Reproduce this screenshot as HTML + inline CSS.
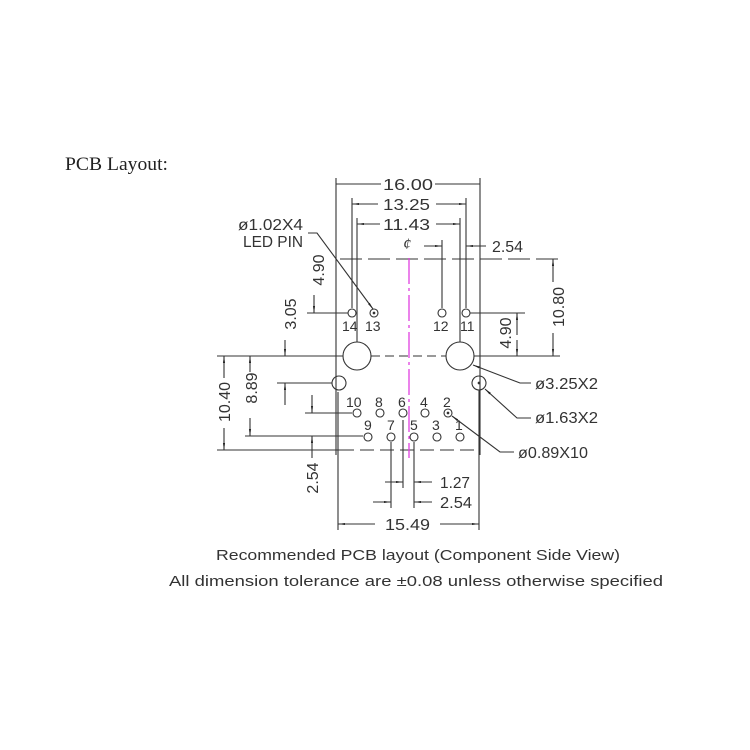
<!DOCTYPE html>
<html><head><meta charset="utf-8"><style>body{margin:0;background:#fff}svg{display:block}</style></head><body>
<svg width="750" height="750" viewBox="0 0 750 750" xmlns="http://www.w3.org/2000/svg">
<defs>
<marker id="a" viewBox="0 0 10 10" refX="10" refY="5" markerWidth="7" markerHeight="7" orient="auto-start-reverse" markerUnits="userSpaceOnUse"><path d="M0,3.5 L10,5 L0,6.5 Z" fill="#222"/></marker>
</defs>
<rect width="750" height="750" fill="#fff"/>
<text x="65" y="170" font-family="Liberation Serif, serif" font-size="19" fill="#222" textLength="103" lengthAdjust="spacingAndGlyphs">PCB Layout:</text>
<g stroke="#333" stroke-width="1.1" fill="none">
<line x1="336" y1="178" x2="336" y2="455"/>
<line x1="480" y1="178" x2="480" y2="455"/>
<line x1="352" y1="198" x2="352" y2="308"/>
<line x1="466" y1="198" x2="466" y2="308"/>
<line x1="357" y1="218" x2="357" y2="342"/>
<line x1="460" y1="218" x2="460" y2="342"/>
<line x1="442" y1="240" x2="442" y2="308"/>
<line x1="336" y1="184" x2="381" y2="184"/><line x1="435" y1="184" x2="480" y2="184"/>
<line x1="352" y1="204" x2="378" y2="204" marker-start="url(#a)"/><line x1="436" y1="204" x2="466" y2="204" marker-end="url(#a)"/>
<line x1="357" y1="224" x2="380" y2="224" marker-start="url(#a)"/><line x1="436" y1="224" x2="460" y2="224" marker-end="url(#a)"/>
<line x1="424" y1="246" x2="442" y2="246" marker-end="url(#a)"/><line x1="486" y1="246" x2="466" y2="246" marker-end="url(#a)"/>
<line x1="340" y1="259" x2="560" y2="259" stroke-dasharray="22,6"/>
<line x1="553" y1="282" x2="553" y2="259" marker-end="url(#a)"/><line x1="553" y1="333" x2="553" y2="356" marker-end="url(#a)"/>
<line x1="307" y1="313" x2="348" y2="313"/>
<line x1="470" y1="313" x2="525" y2="313"/>
<line x1="517" y1="335" x2="517" y2="313" marker-end="url(#a)"/><line x1="517" y1="340" x2="517" y2="356" marker-end="url(#a)"/>
<line x1="314" y1="295" x2="314" y2="313" marker-end="url(#a)"/>
<line x1="285" y1="340" x2="285" y2="356" marker-end="url(#a)"/>
<line x1="217" y1="356" x2="343" y2="356"/>
<line x1="371" y1="356" x2="446" y2="356" stroke-dasharray="9,5"/>
<line x1="474" y1="356" x2="560" y2="356"/>
<circle cx="357" cy="356" r="14"/><circle cx="460" cy="356" r="14"/>
<circle cx="352" cy="313" r="4"/><circle cx="374" cy="313" r="4"/><circle cx="442" cy="313" r="4"/><circle cx="466" cy="313" r="4"/>
<circle cx="374" cy="313" r="0.8" fill="#333"/>
<circle cx="339" cy="383" r="7"/><circle cx="479" cy="383" r="7"/>
<circle cx="479" cy="383" r="0.8" fill="#333"/>
<line x1="277" y1="383" x2="332" y2="383"/>
<line x1="224" y1="378" x2="224" y2="356" marker-end="url(#a)"/><line x1="224" y1="428" x2="224" y2="450" marker-end="url(#a)"/>
<line x1="250" y1="372" x2="250" y2="356" marker-end="url(#a)"/><line x1="250" y1="418" x2="250" y2="436" marker-end="url(#a)"/>
<line x1="285" y1="405" x2="285" y2="383" marker-end="url(#a)"/>
<line x1="312" y1="395" x2="312" y2="413" marker-end="url(#a)"/>
<line x1="312" y1="458" x2="312" y2="436" marker-end="url(#a)"/>
<line x1="305" y1="413" x2="352" y2="413"/>
<line x1="245" y1="436" x2="363" y2="436"/>
<line x1="217" y1="450" x2="340" y2="450"/>
<line x1="340" y1="450" x2="480" y2="450" stroke-dasharray="14,6"/>
<line x1="338" y1="392" x2="338" y2="530"/>
<line x1="479" y1="390" x2="479" y2="530"/>
<circle cx="357" cy="413" r="4"/><circle cx="380" cy="413" r="4"/><circle cx="403" cy="413" r="4"/><circle cx="425" cy="413" r="4"/><circle cx="448" cy="413" r="4"/>
<circle cx="448" cy="413" r="0.8" fill="#333"/>
<circle cx="368" cy="437" r="4"/><circle cx="391" cy="437" r="4"/><circle cx="414" cy="437" r="4"/><circle cx="437" cy="437" r="4"/><circle cx="460" cy="437" r="4"/>
<line x1="391" y1="442" x2="391" y2="508"/>
<line x1="403" y1="420" x2="403" y2="488"/>
<line x1="414" y1="442" x2="414" y2="508"/>
<line x1="385" y1="482" x2="403" y2="482" marker-end="url(#a)"/><line x1="432" y1="482" x2="414" y2="482" marker-end="url(#a)"/>
<line x1="373" y1="502" x2="391" y2="502" marker-end="url(#a)"/><line x1="432" y1="502" x2="414" y2="502" marker-end="url(#a)"/>
<line x1="375" y1="524" x2="338" y2="524" marker-end="url(#a)"/><line x1="440" y1="524" x2="479" y2="524" marker-end="url(#a)"/>
<polyline points="308,233 317,233 373,309" marker-end="url(#a)"/>
<polyline points="531,383 520,383 473,365" marker-end="url(#a)"/>
<polyline points="531,418 517,418 485,389" marker-end="url(#a)"/>
<polyline points="514,452 500,452 452,416" marker-end="url(#a)"/>
</g>
<line x1="409" y1="258" x2="409" y2="458" stroke="#e040e0" stroke-width="1.3" stroke-dasharray="26,4,3,4"/>
<g font-family="Liberation Sans, sans-serif" font-size="16" fill="#333" lengthAdjust="spacingAndGlyphs">
<text x="383" y="190" textLength="50" lengthAdjust="spacingAndGlyphs">16.00</text>
<text x="383" y="210" textLength="47" lengthAdjust="spacingAndGlyphs">13.25</text>
<text x="383" y="230" textLength="47" lengthAdjust="spacingAndGlyphs">11.43</text>
<text x="492" y="252" textLength="31" lengthAdjust="spacingAndGlyphs">2.54</text>
<text x="238" y="230" textLength="65" lengthAdjust="spacingAndGlyphs">ø1.02X4</text>
<text x="243" y="247" textLength="60" lengthAdjust="spacingAndGlyphs">LED PIN</text>
<text x="403" y="249" font-family="Liberation Serif, serif" font-style="italic">ȼ</text>
<g font-size="14">
<text x="342" y="331">14</text><text x="365" y="331">13</text>
<text x="433" y="331">12</text><text x="460" y="331">11</text>
<text x="346" y="407">10</text><text x="375" y="407">8</text><text x="398" y="407">6</text><text x="420" y="407">4</text><text x="443" y="407">2</text>
<text x="364" y="430">9</text><text x="387" y="430">7</text><text x="410" y="430">5</text><text x="432" y="430">3</text><text x="455" y="430">1</text>
</g>
<text x="535" y="389" textLength="63" lengthAdjust="spacingAndGlyphs">ø3.25X2</text>
<text x="535" y="423" textLength="63" lengthAdjust="spacingAndGlyphs">ø1.63X2</text>
<text x="518" y="458" textLength="70" lengthAdjust="spacingAndGlyphs">ø0.89X10</text>
<text x="440" y="488" textLength="30" lengthAdjust="spacingAndGlyphs">1.27</text>
<text x="440" y="508" textLength="32" lengthAdjust="spacingAndGlyphs">2.54</text>
<text x="385" y="530" textLength="45" lengthAdjust="spacingAndGlyphs">15.49</text>
<text transform="translate(324,270) rotate(-90)" text-anchor="middle">4.90</text>
<text transform="translate(296,314) rotate(-90)" text-anchor="middle">3.05</text>
<text transform="translate(564,307) rotate(-90)" text-anchor="middle">10.80</text>
<text transform="translate(511,333) rotate(-90)" text-anchor="middle">4.90</text>
<text transform="translate(230,402) rotate(-90)" text-anchor="middle">10.40</text>
<text transform="translate(257,388) rotate(-90)" text-anchor="middle">8.89</text>
<text transform="translate(318,478) rotate(-90)" text-anchor="middle">2.54</text>
<text x="216" y="560" font-size="15" textLength="404" lengthAdjust="spacingAndGlyphs">Recommended PCB layout (Component Side View)</text>
<text x="169" y="586" font-size="15" textLength="494" lengthAdjust="spacingAndGlyphs">All dimension tolerance are ±0.08 unless otherwise specified</text>
</g>
</svg>
</body></html>
